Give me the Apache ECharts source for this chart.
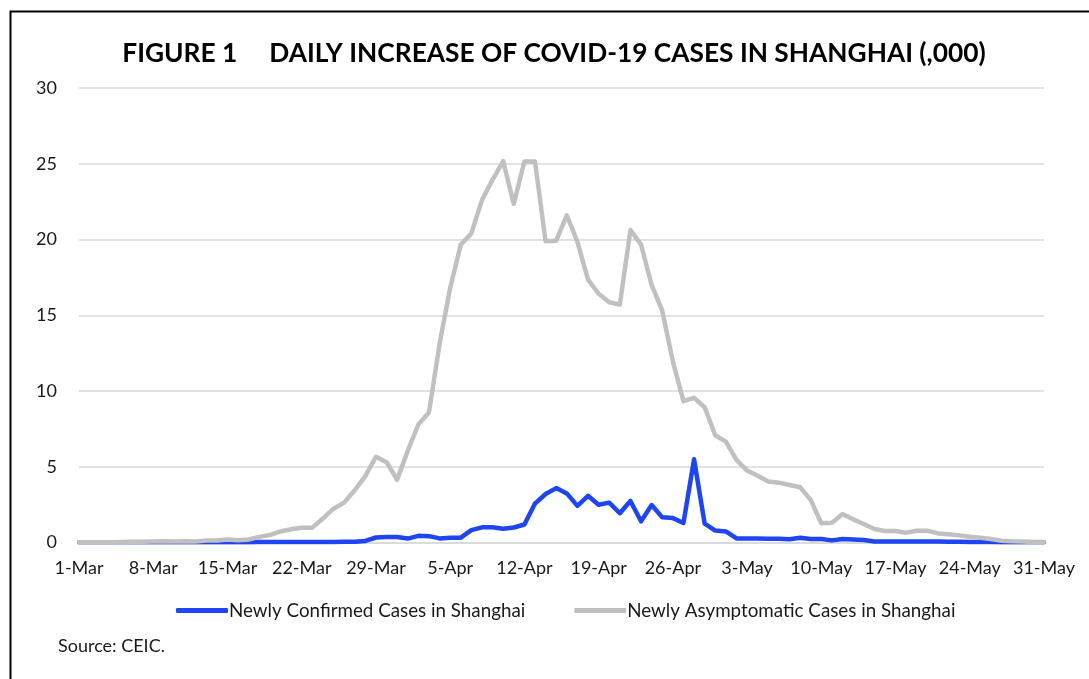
<!DOCTYPE html>
<html>
<head>
<meta charset="utf-8">
<script src="https://cdn.jsdelivr.net/npm/echarts@6/dist/echarts.min.js"></script>
<style>
html,body{margin:0;padding:0;background:#fff;}
#chart{width:1089px;height:679px;}
</style>
</head>
<body>
<div id="chart"></div>
<script>
// Months used to build the daily category labels (1-Mar .. 31-May)
const months = [['Mar', 31], ['Apr', 30], ['May', 31]];
const categories = [];
months.forEach(([m, n]) => { for (let d = 1; d <= n; d++) categories.push(d + '-' + m); });

const yTicks = [0, 5, 10, 15, 20, 25, 30];

// Newly confirmed cases ('000)
const confirmed = [
  0.01,0.01,0.01,0.01,0.01,0.01,0.01,0.01,0.01,0.01,
  0.01,0.01,0.01,0.01,0.01,0.01,0.02,0.03,0.04,0.04,
  0.04,0.04,0.03,0.04,0.04,0.05,0.05,0.1,0.33,0.36,
  0.36,0.26,0.44,0.42,0.27,0.31,0.32,0.82,1.0,1.0,
  0.91,0.99,1.19,2.57,3.2,3.59,3.24,2.42,3.08,2.49,
  2.63,1.93,2.74,1.4,2.47,1.66,1.61,1.29,5.49,1.25,
  0.79,0.73,0.27,0.26,0.26,0.25,0.24,0.22,0.32,0.23,
  0.23,0.14,0.23,0.2,0.16,0.07,0.06,0.06,0.06,0.06,
  0.06,0.06,0.05,0.05,0.04,0.04,0.03,0.02,0.02,0.02,
  0.02,0.02
];

// Newly asymptomatic cases ('000)
const asymptomatic = [
  0.01,0.01,0.01,0.02,0.03,0.05,0.05,0.06,0.08,0.06,
  0.08,0.06,0.13,0.13,0.2,0.15,0.2,0.37,0.49,0.73,
  0.87,0.98,0.98,1.58,2.23,2.63,3.45,4.38,5.66,5.3,
  4.14,6.05,7.79,8.58,13.1,16.8,19.66,20.4,22.6,23.95,
  25.17,22.35,25.15,25.15,19.88,19.92,21.6,19.85,17.35,16.42,
  15.86,15.7,20.63,19.66,17.0,15.3,11.96,9.33,9.55,8.93,
  7.08,6.66,5.45,4.75,4.4,4.02,3.95,3.8,3.65,2.81,
  1.27,1.3,1.88,1.53,1.22,0.89,0.76,0.76,0.65,0.78,
  0.78,0.6,0.54,0.47,0.38,0.32,0.23,0.12,0.08,0.06,
  0.04,0.03
];

const seriesNames = ['Newly Confirmed Cases in Shanghai', 'Newly Asymptomatic Cases in Shanghai'];
const titleText = 'FIGURE 1     DAILY INCREASE OF COVID-19 CASES IN SHANGHAI (,000)';
const sourceText = 'Source: CEIC.';

const FONT = 'Lato, "Open Sans", sans-serif';
const chart = echarts.init(document.getElementById('chart'), null, {renderer: 'canvas'});
chart.setOption({
  animation: false,
  backgroundColor: '#fff',
  title: {
    text: titleText,
    left: 549, top: 36,
    textAlign: 'center',
    textStyle: {fontFamily: FONT, fontSize: 26.3, fontWeight: 'bold', color: '#000'}
  },
  grid: {left: 79, right: 45, top: 88, bottom: 136.5, containLabel: false},
  legend: {
    data: seriesNames,
    left: 171, top: 596,
    itemWidth: 52, itemHeight: 5,
    itemGap: 49,
    icon: 'roundRect',
    textStyle: {fontFamily: FONT, fontSize: 18.8, color: '#1a1a1a', padding: [0,0,0,-4]}
  },
  xAxis: {
    type: 'category',
    data: categories,
    boundaryGap: false,
    axisLine: {show: true, lineStyle: {color: '#d9d9d9', width: 1.5}},
    axisTick: {show: false},
    axisLabel: {interval: 6, margin: 17, fontFamily: FONT, fontSize: 18, color: '#1a1a1a'},
    splitLine: {show: false}
  },
  yAxis: {
    type: 'value',
    min: yTicks[0], max: yTicks[yTicks.length - 1], interval: 5,
    axisLine: {show: false},
    axisTick: {show: false},
    axisLabel: {margin: 22, fontFamily: FONT, fontSize: 18, color: '#1a1a1a'},
    splitLine: {lineStyle: {color: '#d9d9d9', width: 1.5}}
  },
  series: [
    {name: seriesNames[0], type: 'line', data: confirmed, symbol: 'none',
     lineStyle: {color: '#1f45f2', width: 4.5, join: 'round', cap: 'round'}, itemStyle: {color: '#1f45f2'}},
    {name: seriesNames[1], type: 'line', data: asymptomatic, symbol: 'none',
     lineStyle: {color: '#c0c0c0', width: 4.5, join: 'round', cap: 'round'}, itemStyle: {color: '#c0c0c0'}}
  ],
  graphic: [
    {type: 'rect', left: 8, top: 9, silent: true,
     shape: {x: 0, y: 0, width: 1100, height: 700},
     style: {fill: 'none', stroke: '#000', lineWidth: 2}},
    {type: 'text', left: 58, top: 637,
     style: {text: sourceText, font: '18px ' + FONT, fill: '#1a1a1a'}}
  ]
});
</script>
</body>
</html>
